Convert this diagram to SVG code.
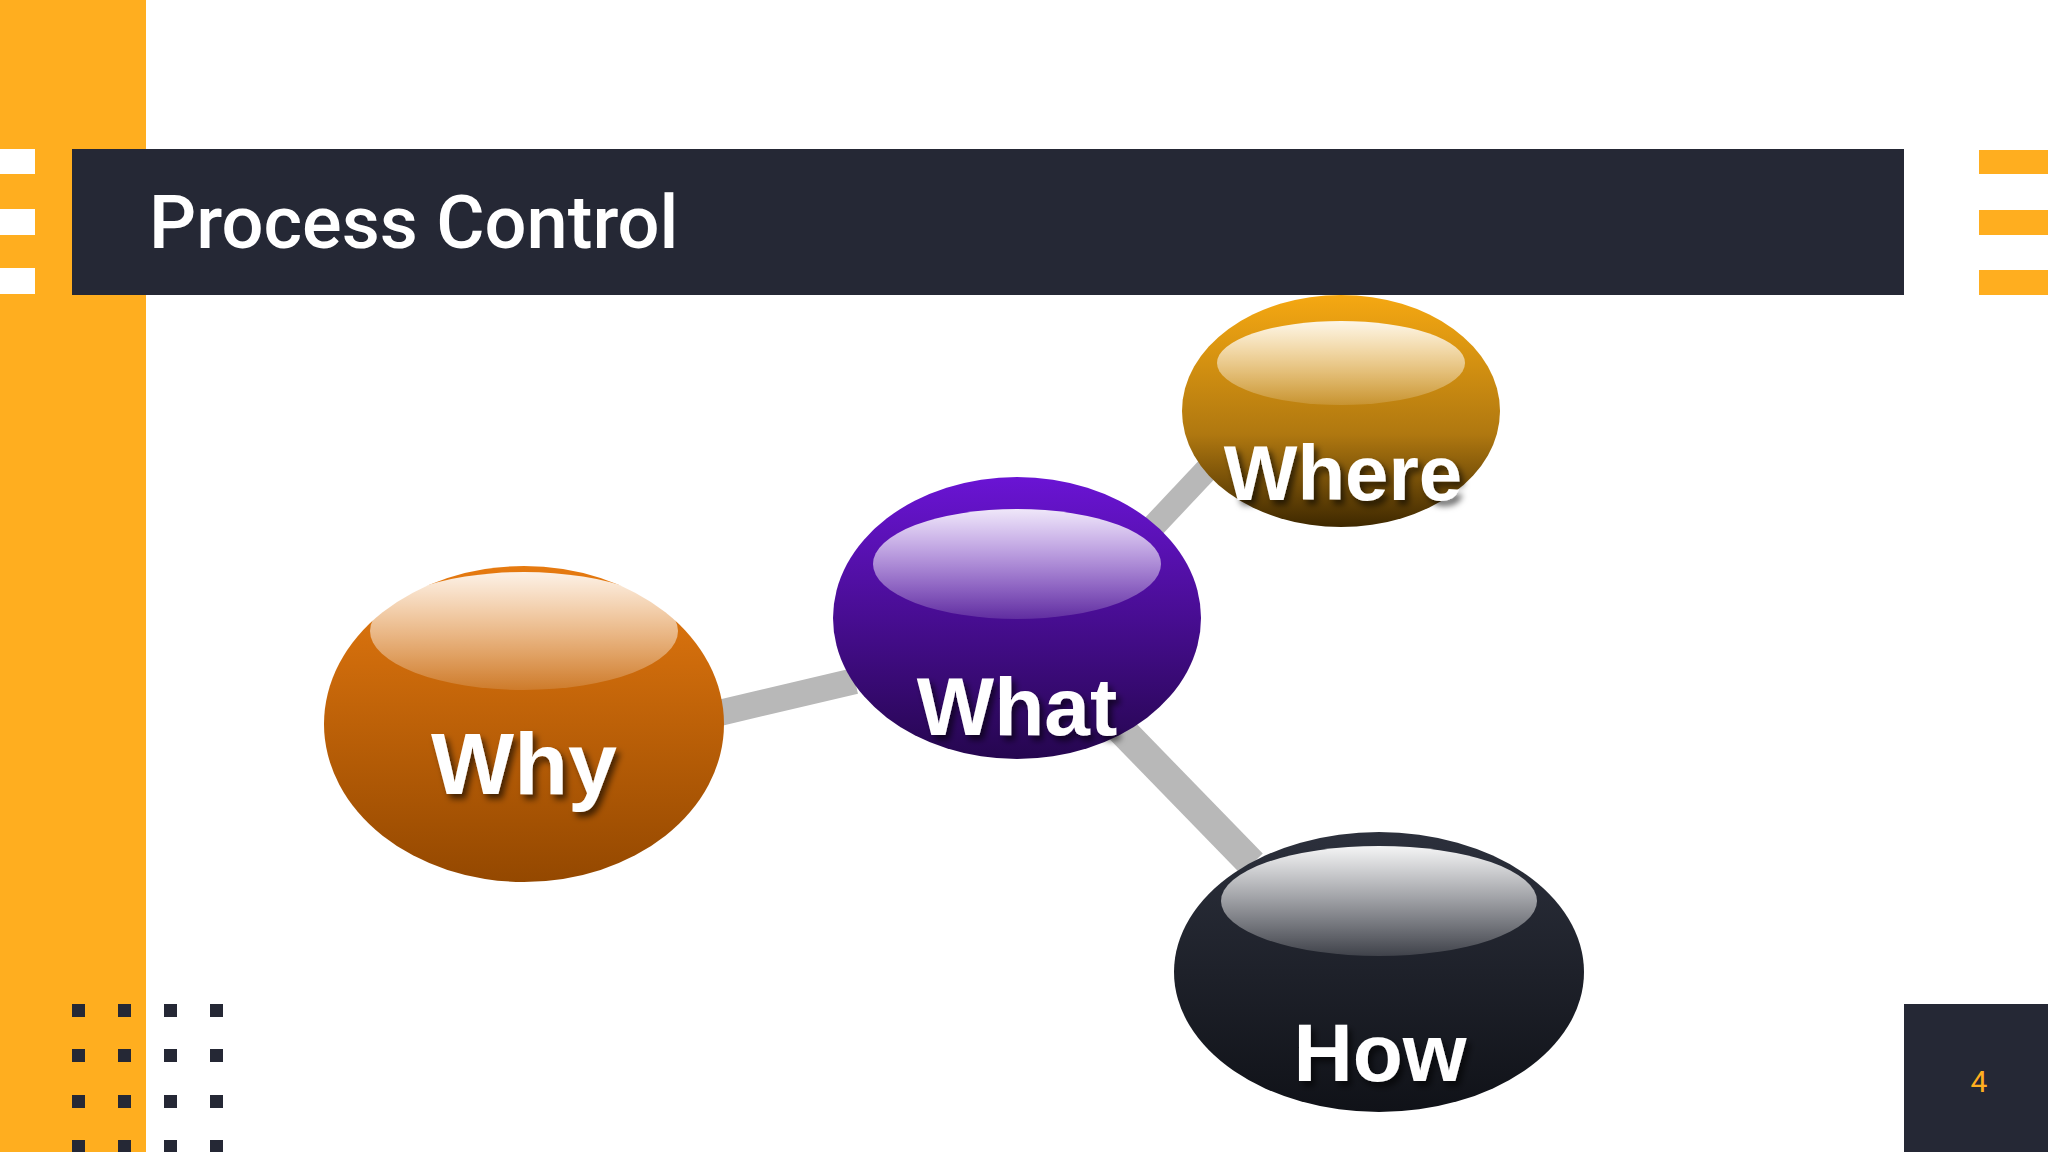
<svg xmlns="http://www.w3.org/2000/svg" width="2048" height="1152" viewBox="0 0 2048 1152">
<style>
.dark{fill:#252835}.org{fill:#FFAE1F}.wh{fill:#fff}
.lbl{font-family:"Liberation Sans",Arial,sans-serif;font-weight:bold;fill:#fff;text-anchor:middle;filter:url(#sh)}
.con{stroke:#B8B8B8;stroke-linecap:butt}
</style>
<defs>
<filter id="sh" x="-20%" y="-20%" width="140%" height="150%"><feDropShadow dx="4" dy="5" stdDeviation="3" flood-color="#000" flood-opacity="0.6"/></filter>
<linearGradient id="gWhy" x1="0" y1="0" x2="0" y2="1"><stop offset="0" stop-color="#E67A10"/><stop offset="1" stop-color="#944800"/></linearGradient>
<linearGradient id="gWhat" x1="0" y1="0" x2="0" y2="1"><stop offset="0" stop-color="#6A14D4"/><stop offset="1" stop-color="#25064F"/></linearGradient>
<linearGradient id="gWhere" x1="0" y1="0" x2="0" y2="1"><stop offset="0" stop-color="#F5A812"/><stop offset="0.6" stop-color="#B07810"/><stop offset="1" stop-color="#3E2800"/></linearGradient>
<linearGradient id="gHow" x1="0" y1="0" x2="0" y2="1"><stop offset="0" stop-color="#2C303C"/><stop offset="1" stop-color="#101218"/></linearGradient>
<linearGradient id="hWhy" x1="0" y1="0" x2="0" y2="1"><stop offset="0" stop-color="#fff"/><stop offset="1" stop-color="#fff" stop-opacity="0.15"/></linearGradient>
</defs>
<rect class="org" x="0" y="0" width="146" height="1152"/>
<g class="wh"><rect x="0" y="149" width="35" height="25"/><rect x="0" y="209" width="35" height="26"/><rect x="0" y="268" width="35" height="26"/></g>
<rect class="dark" x="72" y="149" width="1832" height="146"/>
<text x="149" y="248" font-family="Roboto,'Liberation Sans',sans-serif" font-weight="500" font-size="74" fill="#fff">Process Control</text>
<g class="org"><rect x="1979" y="150" width="69" height="24"/><rect x="1979" y="210" width="69" height="25"/><rect x="1979" y="270" width="69" height="25"/></g>
<rect class="dark" x="1904" y="1004" width="144" height="148"/>
<text x="1979" y="1092" font-family="Roboto,'Liberation Sans',sans-serif" font-size="30" fill="#FFAE1F" text-anchor="middle">4</text>
<g class="dark">
<rect x="72" y="1004" width="13" height="13"/><rect x="118" y="1004" width="13" height="13"/><rect x="164" y="1004" width="13" height="13"/><rect x="210" y="1004" width="13" height="13"/>
<rect x="72" y="1049" width="13" height="13"/><rect x="118" y="1049" width="13" height="13"/><rect x="164" y="1049" width="13" height="13"/><rect x="210" y="1049" width="13" height="13"/>
<rect x="72" y="1095" width="13" height="13"/><rect x="118" y="1095" width="13" height="13"/><rect x="164" y="1095" width="13" height="13"/><rect x="210" y="1095" width="13" height="13"/>
<rect x="72" y="1140" width="13" height="12"/><rect x="118" y="1140" width="13" height="12"/><rect x="164" y="1140" width="13" height="12"/><rect x="210" y="1140" width="13" height="12"/>
</g>
<g id="connectors">
<line class="con" x1="715" y1="714" x2="855" y2="681" stroke-width="26"/>
<line class="con" x1="1150" y1="530" x2="1214" y2="462" stroke-width="24"/>
<line class="con" x1="1110" y1="718" x2="1252" y2="864" stroke-width="30"/>
</g>
<g id="why">
<ellipse cx="524" cy="724" rx="200" ry="158" fill="url(#gWhy)"/>
<ellipse cx="524" cy="631" rx="154" ry="59" fill="url(#hWhy)" opacity="0.9"/>
<text class="lbl" x="524" y="794" font-size="88">Why</text>
</g>
<g id="what">
<ellipse cx="1017" cy="618" rx="184" ry="141" fill="url(#gWhat)"/>
<ellipse cx="1017" cy="564" rx="144" ry="55" fill="url(#hWhy)" opacity="0.9"/>
<text class="lbl" x="1017" y="735" font-size="82">What</text>
</g>
<g id="where">
<ellipse cx="1341" cy="411" rx="159" ry="116" fill="url(#gWhere)"/>
<ellipse cx="1341" cy="363" rx="124" ry="42" fill="url(#hWhy)" opacity="0.9"/>
<text class="lbl" x="1343" y="500" font-size="78">Where</text>
</g>
<g id="how">
<ellipse cx="1379" cy="972" rx="205" ry="140" fill="url(#gHow)"/>
<ellipse cx="1379" cy="901" rx="158" ry="55" fill="url(#hWhy)" opacity="0.95"/>
<text class="lbl" x="1380" y="1081" font-size="82">How</text>
</g>
</svg>
